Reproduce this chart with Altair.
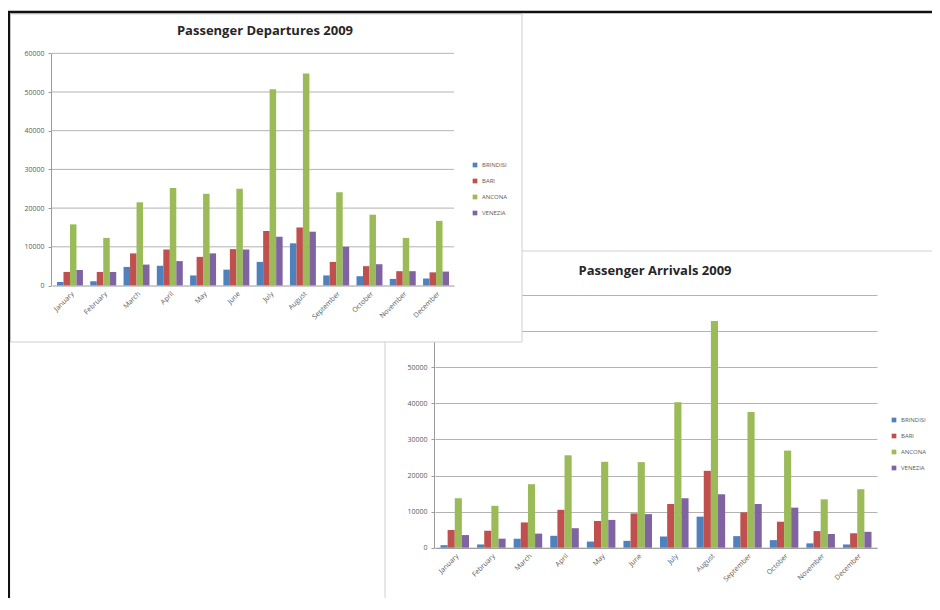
import altair as alt
import pandas as pd

months = ["January", "February", "March", "April", "May", "June", "July",
          "August", "September", "October", "November", "December"]
series = ["BRINDISI", "BARI", "ANCONA", "VENEZIA"]
colors = ["#4F81BD", "#C0504D", "#9BBB59", "#8064A2"]

# Passenger Departures 2009
dep_brindisi = [900, 1100, 4800, 5100, 2600, 4100, 6100, 10900, 2600, 2400, 1700, 1800]
dep_bari = [3500, 3500, 8300, 9300, 7400, 9400, 14100, 15000, 6100, 5000, 3700, 3400]
dep_ancona = [15800, 12300, 21500, 25200, 23700, 25000, 50700, 54800, 24100, 18300, 12300, 16700]
dep_venezia = [4000, 3500, 5400, 6300, 8300, 9300, 12600, 13900, 10000, 5500, 3700, 3600]

# Passenger Arrivals 2009
arr_brindisi = [700, 900, 2500, 3300, 1700, 1900, 3100, 8600, 3200, 2100, 1200, 900]
arr_bari = [4900, 4700, 7000, 10500, 7400, 9500, 12100, 21300, 9800, 7200, 4600, 4000]
arr_ancona = [13700, 11600, 17600, 25600, 23800, 23700, 40300, 62800, 37600, 26900, 13400, 16200]
arr_venezia = [3500, 2500, 3900, 5400, 7700, 9300, 13700, 14800, 12100, 11100, 3800, 4400]

dep_ticks = [0, 10000, 20000, 30000, 40000, 50000, 60000]
arr_ticks = [0, 10000, 20000, 30000, 40000, 50000, 60000, 70000]

W, H = 924, 590
FONT = "Open Sans"
LABEL = "#595959"
GRID = "#b3b3b3"


def long_df(cols):
    rows = []
    for s, vals in zip(series, cols):
        for m, v in zip(months, vals):
            rows.append({"month": m, "series": s, "value": v})
    return pd.DataFrame(rows)


dep = long_df([dep_brindisi, dep_bari, dep_ancona, dep_venezia])
arr = long_df([arr_brindisi, arr_bari, arr_ancona, arr_venezia])
one = pd.DataFrame({"k": [0]})


def bars(df, x_range, y_domain, y_range, ticks, legend_x, legend_y, z, grid):
    return alt.Chart(df).mark_bar().encode(
        x=alt.X("month:N", sort=months, title=None,
                scale=alt.Scale(range=x_range, paddingInner=0.22, paddingOuter=0.15),
                axis=alt.Axis(orient="bottom", offset=y_range[0] - H, labelAngle=-45,
                              labelFontSize=7, labelColor=LABEL, labelFont=FONT,
                              domainColor="#9a9a9a", ticks=False, grid=False,
                              labelPadding=4, zindex=z)),
        xOffset=alt.XOffset("series:N", sort=series, scale=alt.Scale(paddingInner=0, paddingOuter=0)),
        y=alt.Y("value:Q", title=None,
                scale=alt.Scale(domain=y_domain, range=y_range, nice=False),
                axis=alt.Axis(orient="left", offset=-x_range[0] + 1, values=ticks, format="d",
                              labelFontSize=7, labelColor=LABEL, labelFont=FONT,
                              domainColor="#9a9a9a", tickColor="#9a9a9a", tickSize=3,
                              grid=grid, gridColor=GRID, labelPadding=4, zindex=z)),
        color=alt.Color("series:N", sort=series,
                        scale=alt.Scale(domain=series, range=colors),
                        legend=alt.Legend(title=None, orient="none", legendX=legend_x,
                                          legendY=legend_y, symbolType="square",
                                          symbolSize=22, symbolStrokeWidth=0,
                                          labelFontSize=6, labelColor=LABEL,
                                          labelFont=FONT, rowPadding=10, zindex=1)),
    )


def box(x, x2, y, y2, fill, stroke, sw):
    return alt.Chart(one).mark_rect(fill=fill, stroke=stroke, strokeWidth=sw).encode(
        x=alt.value(x), x2=alt.value(x2), y=alt.value(y), y2=alt.value(y2))


def title(text, x, y):
    return alt.Chart(one).mark_text(font=FONT, fontSize=13, fontWeight="bold",
                                    color="#262626").encode(
        x=alt.value(x), y=alt.value(y), text=alt.value(text))


arr_box = alt.Chart(one).mark_rect(fillOpacity=0, stroke="#cfcfcf", strokeWidth=1).encode(
    x=alt.value(377), x2=alt.value(960), y=alt.value(243), y2=alt.value(596))

arr_bars = bars(arr, [427, 869], [0, 70000], [539.7, 287], arr_ticks, 883, 409, 0, True)

dep_box = box(2.5, 514, 6, 334, "white", "#cfcfcf", 1)

dep_grid = alt.Chart(pd.DataFrame({"v": dep_ticks[1:]})).mark_rule(
    color=GRID, strokeWidth=1).encode(
    y=alt.Y("v:Q", scale=alt.Scale(domain=[0, 60000], range=[277.5, 45.3], nice=False), axis=None),
    x=alt.value(44), x2=alt.value(446))

dep_bars = bars(dep, [44, 446], [0, 60000], [277.5, 45.3], dep_ticks, 464, 154, 1, False)

frame = alt.Chart(one).mark_rect(fillOpacity=0, stroke="#111111", strokeWidth=2.5).encode(
    x=alt.value(0.8), x2=alt.value(960), y=alt.value(4), y2=alt.value(640))

chart = alt.layer(
    arr_box,
    arr_bars,
    title("Passenger Arrivals 2009", 647, 263),
    dep_box,
    dep_grid,
    dep_bars,
    title("Passenger Departures 2009", 257, 23),
    frame,
).resolve_scale(
    x="independent", y="independent", xOffset="independent", color="independent"
).resolve_axis(
    x="independent", y="independent"
).resolve_legend(
    color="independent"
).properties(
    width=W, height=H, padding=0,
    autosize=alt.AutoSizeParams(type="none"),
    background="white",
).configure_view(stroke=None)

chart.save("out.html", embed_options={"renderer": "svg", "actions": False})
